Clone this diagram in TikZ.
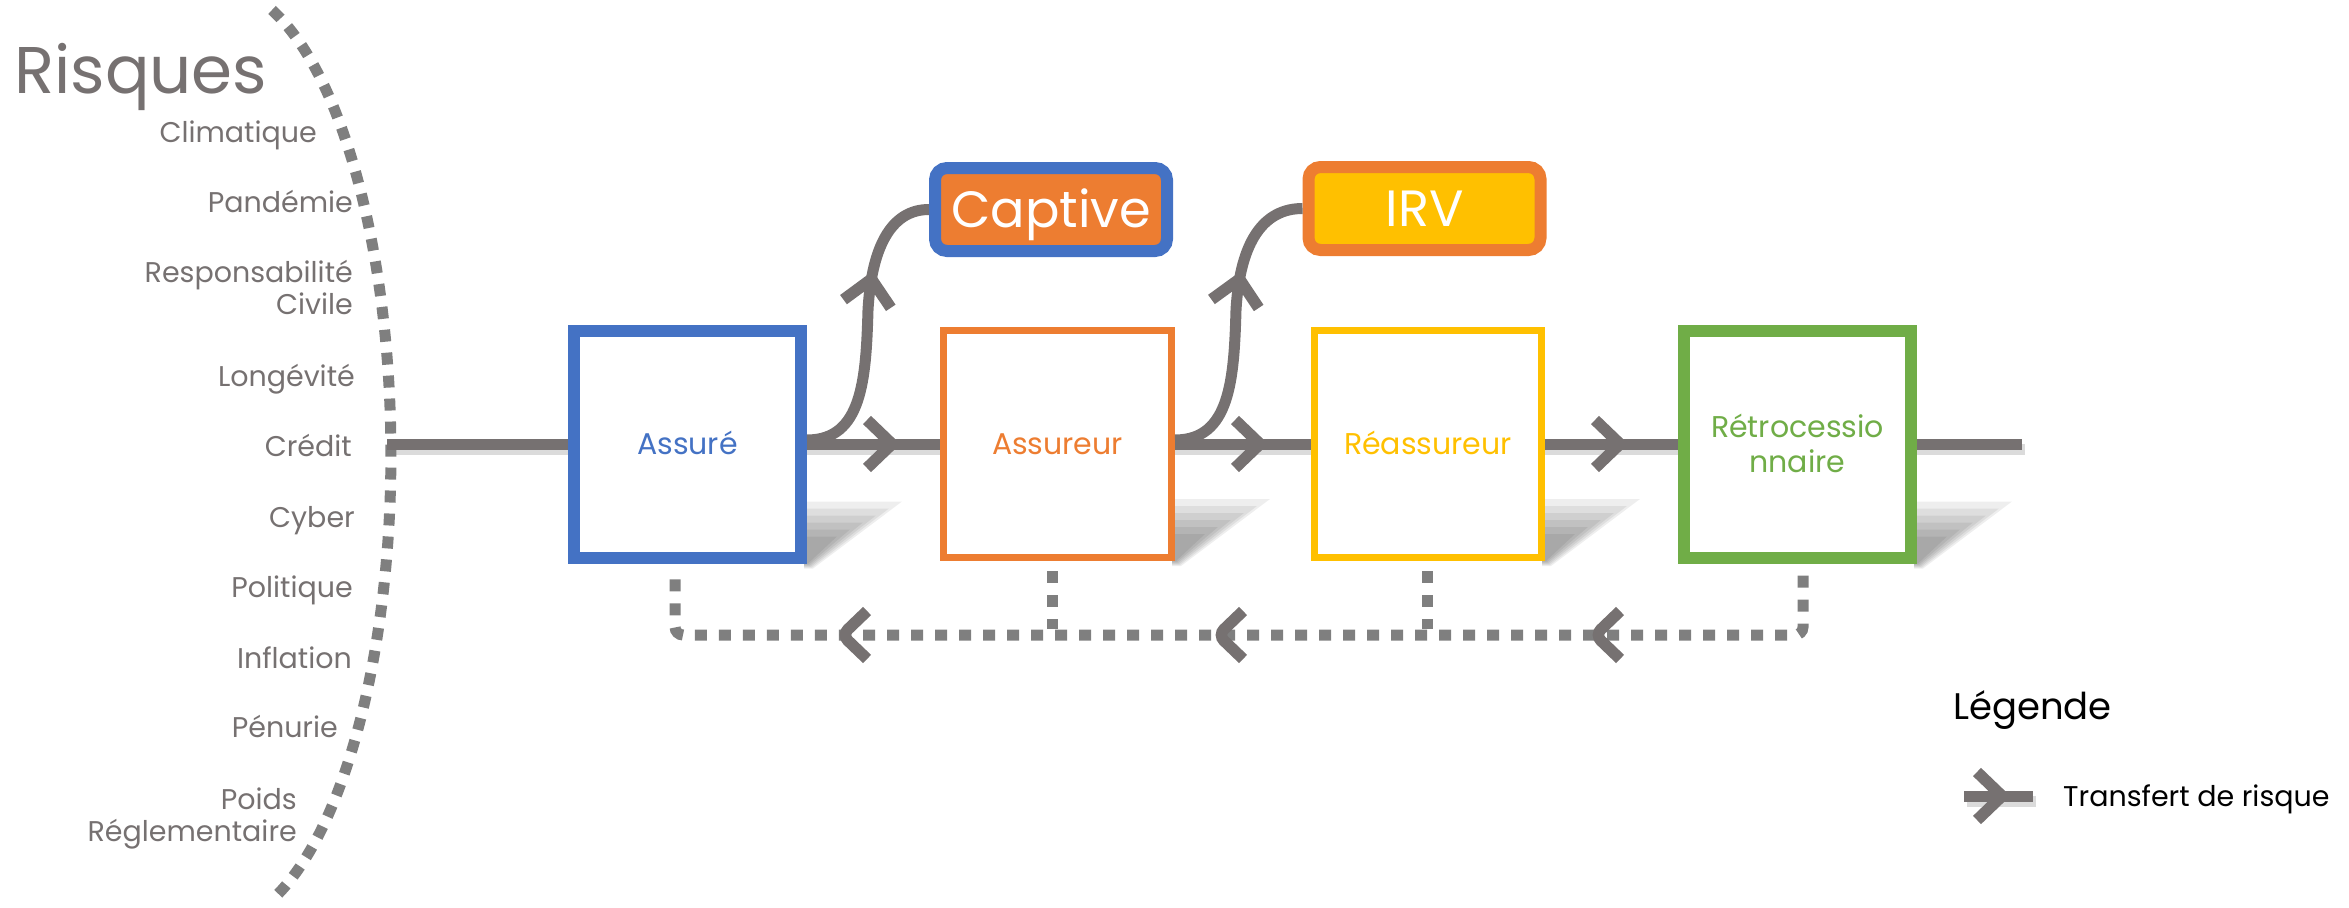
\documentclass[tikz,border=0pt]{standalone}
\usepackage{fontspec}
\setmainfont{Poppins}
\usetikzlibrary{decorations.markings, backgrounds}
\definecolor{cblue}{HTML}{4472C4}
\definecolor{corange}{HTML}{ED7D31}
\definecolor{cyellow}{HTML}{FFC000}
\definecolor{cgreen}{HTML}{70AD47}
\definecolor{cgray}{HTML}{767171}
\definecolor{cdot}{HTML}{7F7F7F}
\tikzset{
  entity/.style={draw, fill=white, minimum width=227pt, minimum height=227pt, inner sep=0pt},
  tag/.style={draw, rounded corners=12pt, line width=12pt, minimum width=232pt, minimum height=83pt,
    inner sep=0pt, text=white, font=\fontsize{51}{51}\selectfont, text height=36pt, text depth=0pt},
  boxtext/.style={anchor=base, inner sep=0pt, font=\fontsize{30}{35}\selectfont},
  flow/.style={draw=cgray, line width=11pt},
  chevline/.style={draw=cgray, line width=11.5pt, solid, miter limit=10},
  risk/.style={text=cgray, font=\fontsize{28.5}{31.3}\selectfont, anchor=base east, align=right, inner sep=0pt},
  dots/.style={draw=cdot, line width=11pt, dash pattern=on 12pt off 12pt},
  markat/.style={postaction={decorate}, decoration={markings,
      mark=at position #1 with {\draw[chevline] (-25pt,-24pt) -- (0pt,0pt) -- (-25pt,24pt);}}},
  softshade/.style={opacity=0.065, fill=black},
}
\begin{document}
\begin{tikzpicture}[x=1pt, y=-1pt]
\useasboundingbox (0,0) rectangle (2349,907);

% title and list of risks
\node[anchor=base west, inner sep=0pt, text=cgray, font=\fontsize{66}{70}\selectfont] (title) at (14,93) {Risques};
\node[risk] (r1) at (317,142) {Climatique};
\node[risk] (r2) at (353,212) {Pandémie};
\node[risk] (r3) at (353,314) {Responsabilité\\Civile};
\node[risk] (r4) at (355,386) {Longévité};
\node[risk] (r5) at (352,456) {Crédit};
\node[risk] (r6) at (355,527) {Cyber};
\node[risk] (r7) at (353,597) {Politique};
\node[risk] (r8) at (352,668) {Inflation};
\node[risk] (r9) at (338,737) {Pénurie};
\node[risk] (r10) at (297,841) {Poids\\Réglementaire};

% dotted arc enclosing the risks
\draw[dots, dash pattern=on 12pt off 11pt] (272,10) arc[start angle=71.2, end angle=-71.2, x radius=175.4pt, y radius=470pt];

% chain of entities
\node[entity, draw=cblue, line width=12pt] (assure) at (687.5,444) {};
\node[entity, draw=corange, line width=7pt, minimum width=228pt] (assureur) at (1057.5,444) {};
\node[entity, draw=cyellow, line width=7pt] (reass) at (1428,444) {};
\node[entity, draw=cgreen, line width=12pt] (retro) at (1797.5,444) {};

\node[boxtext, text=cblue] (tassure) at (687.5,454) {Assuré};
\node[boxtext, text=corange] (tassureur) at (1057.5,454) {Assureur};
\node[boxtext, text=cyellow] (treass) at (1428,454) {Réassureur};
\node[boxtext, text=cgreen, align=center] (tretro) at (1797.5,472) {Rétrocessio\\nnaire};

\node[tag, draw=cblue, fill=corange] (captive) at (1051,209.5) {Captive};
\node[tag, draw=corange, fill=cyellow] (irv) at (1424.5,208.5) {IRV};

% main risk-transfer line
\coordinate (lineA) at (387,444);
\coordinate (lineB) at (2022,444);
\begin{scope}[on background layer]
  \draw[black!14, line width=11pt] ([shift={(3pt,-5pt)}]lineA) -- ([shift={(3pt,-5pt)}]lineB);
  % soft cast shadows of the entity boxes
  \foreach \n in {assure,assureur,reass,retro}{
    \foreach \k in {0,...,5}{
      \fill[softshade]
        ([xshift=-3pt,yshift=62pt-7pt*\k]\n.south east) -- ++(98pt-13pt*\k,0pt)
        -- ([xshift=6pt-\k*1pt,yshift=-5pt+\k*1pt]\n.south east) -- ([xshift=-3pt,yshift=-5pt+\k*1pt]\n.south east) -- cycle;
    }
  }
\end{scope}
\draw[flow] (lineA) -- (assure.west);
\draw[flow, markat=85pt] (assure.east) -- (assureur.west);
\draw[flow, markat=85pt] (assureur.east) -- (reass.west);
\draw[flow, markat=75pt] (reass.east) -- (retro.west);
\draw[flow] (retro.east) -- (lineB);

% branches towards the captive and the IRV
\draw[flow, markat=192pt] ([yshift=4pt]assure.east) .. controls +(55,0) and +(-2,70) .. ++(61,-130)
  .. controls +(4,-70) and +(-34,0) .. (captive.west);
\draw[flow, markat=192pt] ([yshift=4pt]assureur.east) .. controls +(55,0) and +(-2,70) .. ++(61,-130)
  .. controls +(4,-70) and +(-38,0) .. (irv.west);

% dotted return path under the chain
\coordinate (r0) at ([xshift=5.5pt,yshift=-12pt]retro.south);
\coordinate (a0) at ([xshift=-12.5pt,yshift=-12pt]assure.south);
\draw[dots, rounded corners=8pt, postaction={decorate}, decoration={markings,
    mark=at position 264pt with {\draw[chevline] (-25pt,-24pt) -- (0pt,0pt) -- (-25pt,24pt);},
    mark=at position 641pt with {\draw[chevline] (-25pt,-24pt) -- (0pt,0pt) -- (-25pt,24pt);},
    mark=at position 1017pt with {\draw[chevline] (-25pt,-24pt) -- (0pt,0pt) -- (-25pt,24pt);}}]
  (r0) -- (r0 |- 0,635) -- (a0 |- 0,635) -- (a0);
\draw[dots] ([xshift=-5.5pt,yshift=-10pt]assureur.south) -- ++(0,58);
\draw[dots] ([xshift=-1pt,yshift=-10pt]reass.south) -- ++(0,58);

% legend
\node[anchor=base west, inner sep=0pt, font=\fontsize{37}{40}\selectfont] (legend) at (1953,719) {Légende};
\coordinate (lg0) at (1964,796);
\coordinate (lg1) at (2033,796);
\begin{scope}[on background layer]
  \draw[black!14, line width=11pt] ([shift={(3pt,-5pt)}]lg0) -- ([shift={(3pt,-5pt)}]lg1);
\end{scope}
\draw[flow, markat=38pt] (lg0) -- (lg1);
\node[anchor=base west, inner sep=0pt, font=\fontsize{28.5}{31}\selectfont] (legtext) at (2063,806) {Transfert de risque};
\end{tikzpicture}
\end{document}
